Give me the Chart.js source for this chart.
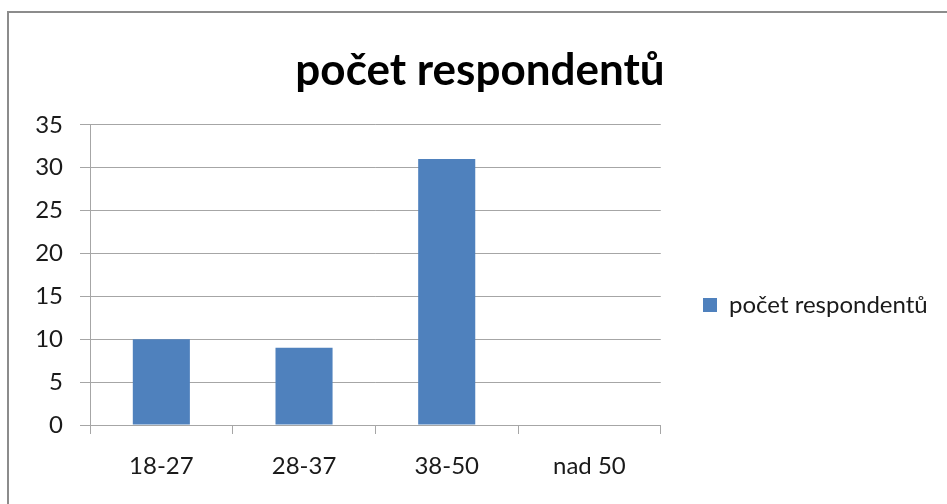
<!DOCTYPE html>
<html><head><meta charset="utf-8">
<script src="https://cdn.jsdelivr.net/npm/chart.js@4"></script>
<style>
html,body{margin:0;padding:0;background:#fff;overflow:hidden}
#wrap{position:relative;width:947px;height:504px}
#frame{position:absolute;left:7px;top:11px;right:0;bottom:0;border-top:2px solid #8c8c8c;border-left:2px solid #8c8c8c;pointer-events:none}
canvas{position:absolute;left:0;top:0}
</style></head>
<body><div id="wrap"><canvas id="c" width="947" height="504"></canvas><div id="frame"></div></div>
<script>
const chartTitle = 'počet respondentů';
const seriesName = 'počet respondentů';
const categories = ['18-27', '28-37', '38-50', 'nad 50'];
const values = [10, 9, 31, 0];
const yTicks = [0, 5, 10, 15, 20, 25, 30, 35];

const FONT = 'Lato, "Open Sans", sans-serif';
const GRID = '#a6a6a6';
const TEXT = '#1a1a1a';
const PAD_L = 0, PAD_R = 66;

const placeBoxes = {
  id: 'placeBoxes',
  afterLayout(chart) {
    const lg = chart.legend;
    if (lg) { lg.top += 53; lg.bottom += 53; lg.left = 693; lg.right = 947; lg.width = 254; }
    const t = chart.titleBlock;
    if (t) { const c = (t.left + t.right) / 2, dx = 480 - c; t.left += dx; t.right += dx; }
  }
};

new Chart(document.getElementById('c'), {
  type: 'bar',
  data: {
    labels: categories,
    datasets: [{
      label: seriesName,
      data: values,
      backgroundColor: '#4f81bd',
      borderWidth: 0,
      barPercentage: 0.4,
      categoryPercentage: 1
    }]
  },
  options: {
    responsive: false,
    animation: false,
    devicePixelRatio: 1,
    layout: { padding: { left: PAD_L, right: PAD_R, top: 0, bottom: 0 } },
    plugins: {
      title: {
        display: true, text: chartTitle, color: '#000',
        font: { family: FONT, size: 44, weight: 'bold' },
        padding: { top: 44, bottom: 28 }
      },
      legend: {
        position: 'right',
        labels: {
          color: TEXT, boxWidth: 14, boxHeight: 14, padding: 10,
          font: { family: FONT, size: 24 }
        }
      },
      tooltip: { enabled: false }
    },
    scales: {
      x: {
        grid: { display: true, drawOnChartArea: false, drawTicks: true, tickLength: 9, color: GRID, offset: true },
        border: { color: GRID, width: 1 },
        ticks: { color: TEXT, font: { family: FONT, size: 24 }, padding: 18, maxRotation: 0 },
        afterFit(s) { s.height = 79; }
      },
      y: {
        min: 0, max: 35,
        afterBuildTicks(s) { s.ticks = yTicks.map(v => ({ value: v })); },
        grid: { color: GRID, tickLength: 10 },
        border: { color: GRID, width: 1 },
        ticks: { color: TEXT, font: { family: FONT, size: 24 }, padding: 17 },
        afterFit(s) { s.width = 90 - PAD_L; }
      }
    }
  },
  plugins: [placeBoxes]
});
</script></body></html>
